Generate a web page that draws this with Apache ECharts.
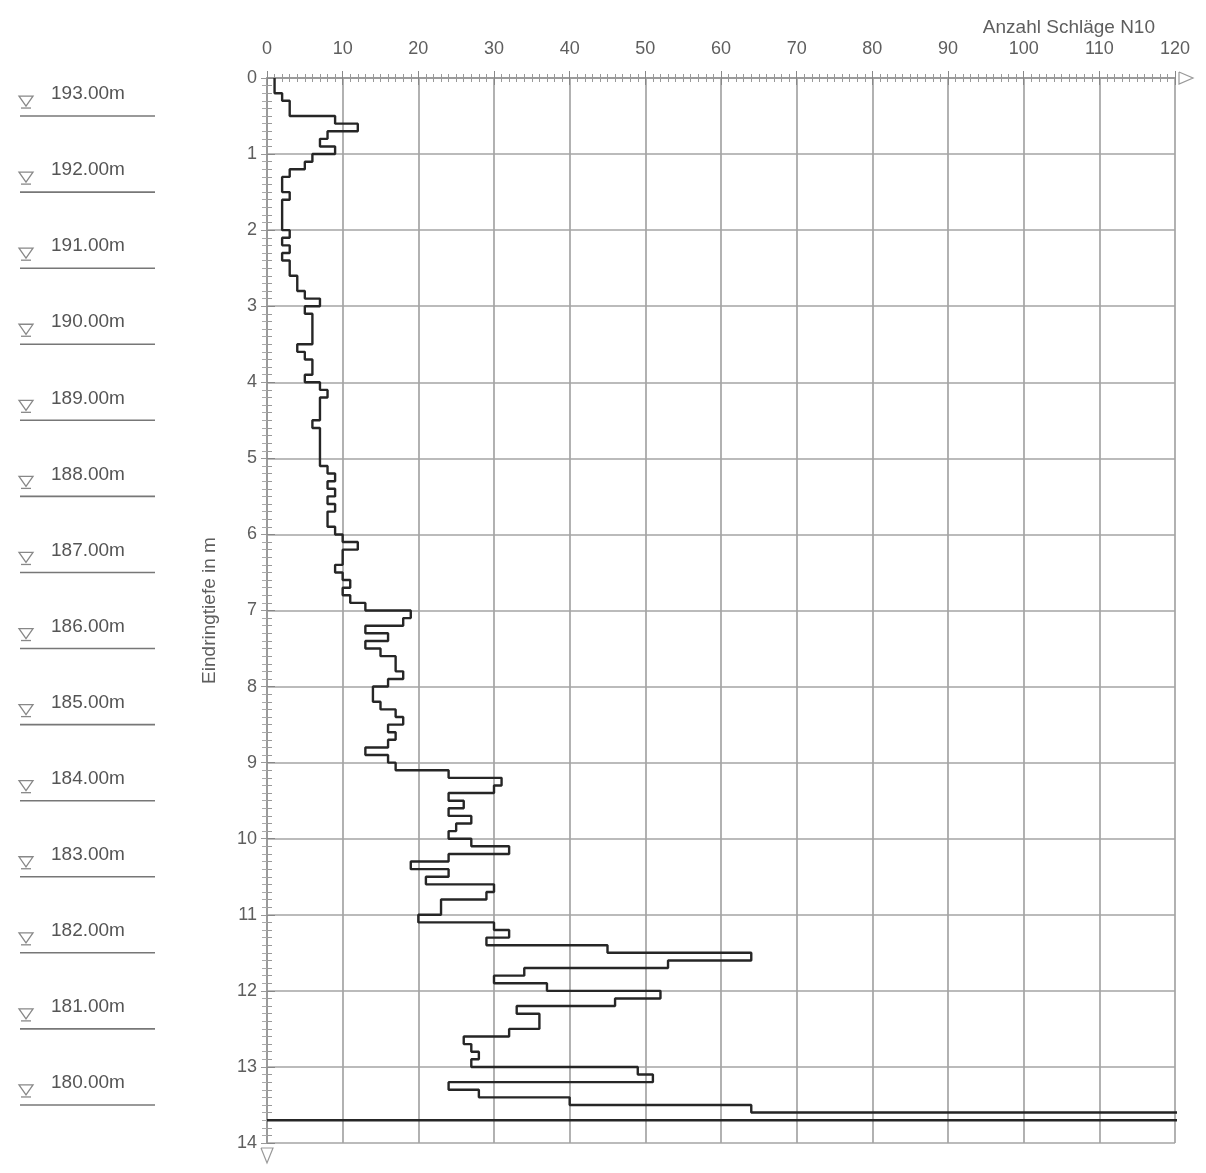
<!DOCTYPE html>
<html>
<head>
<meta charset="utf-8">
<script src="https://cdn.jsdelivr.net/npm/echarts@6/dist/echarts.min.js"></script>
<style>
html,body{margin:0;padding:0;background:#fff;}
#chart{width:1206px;height:1173px;}
</style>
</head>
<body>
<div id="chart"></div>
<script>
// Depth step (m) of each blow-count interval
const depthStep = 0.1;
// Blow counts N10 per 0.1 m, from 0.0 m downwards (last one is off-scale)
const n10Values = [
  1, 1, 2, 3, 3, 9, 12, 8, 7, 9,        // 0.0 - 1.0
  6, 5, 3, 2, 2, 3, 2, 2, 2, 2,         // 1.0 - 2.0
  3, 2, 3, 2, 3, 3, 4, 4, 5, 7,         // 2.0 - 3.0
  5, 6, 6, 6, 6, 4, 5, 6, 6, 5,         // 3.0 - 4.0
  7, 8, 7, 7, 7, 6, 7, 7, 7, 7,         // 4.0 - 5.0
  7, 8, 9, 8, 9, 8, 9, 8, 8, 9,         // 5.0 - 6.0
  10, 12, 10, 10, 9, 10, 11, 10, 11, 13,// 6.0 - 7.0
  19, 18, 13, 16, 13, 15, 17, 17, 18, 16,// 7.0 - 8.0
  14, 14, 15, 17, 18, 16, 17, 16, 13, 16,// 8.0 - 9.0
  17, 24, 31, 30, 24, 26, 24, 27, 25, 24,// 9.0 - 10.0
  27, 32, 24, 19, 24, 21, 30, 29, 23, 23,// 10.0 - 11.0
  20, 30, 32, 29, 45, 64, 53, 34, 30, 37,// 11.0 - 12.0
  52, 46, 33, 36, 36, 32, 26, 27, 28, 27,// 12.0 - 13.0
  49, 51, 24, 28, 40, 64, 130           // 13.0 - 13.7
];
// Elevation markers on the left (m)
const elevationLabels = [193, 192, 191, 190, 189, 188, 187, 186, 185, 184, 183, 182, 181, 180];
const groundElevation = 193.5;
// Axis ranges / ticks
const xMin = 0, xMax = 120, xInterval = 10;
const yMin = 0, yMax = 14, yInterval = 1;
const xAxisTitle = 'Anzahl Schläge N10';
const yAxisTitle = 'Eindringtiefe in m';

// Build step polyline from the values
const stepPoints = [];
n10Values.forEach((v, i) => {
  const d0 = +(i * depthStep).toFixed(2);
  const d1 = +((i + 1) * depthStep).toFixed(2);
  stepPoints.push([v, d0]);
  stepPoints.push([v, d1]);
});
const endDepth = +(n10Values.length * depthStep).toFixed(2);
stepPoints.push([0, endDepth]);

const markerData = elevationLabels.map(e => [0, +(groundElevation - e).toFixed(2), e]);

const GRID_TOP = 78, GRID_BOTTOM = 1173 - 1143, GRID_LEFT = 267, GRID_RIGHT = 1206 - 1175;
const gridColor = '#a4a4a4';
const labelColor = '#5e5e5e';
const FONT = 'Liberation Sans, Arial, sans-serif';

const chart = echarts.init(document.getElementById('chart'), null, {renderer: 'canvas'});
const option = {
  backgroundColor: '#fff',
  animation: false,
  title: {
    text: xAxisTitle,
    right: 46, top: 13,
    textStyle: {fontSize: 19, fontWeight: 'normal', color: labelColor, fontFamily: FONT}
  },
  grid: [
    {left: GRID_LEFT, right: GRID_RIGHT, top: GRID_TOP, bottom: GRID_BOTTOM, containLabel: false},
    {left: 20, width: 135, top: GRID_TOP, bottom: GRID_BOTTOM, containLabel: false}
  ],
  xAxis: [
    {
      gridIndex: 0, type: 'value', position: 'top', min: xMin, max: xMax, interval: xInterval,
      axisLine: {show: true, lineStyle: {color: '#999', width: 1.5}},
      axisTick: {show: true, inside: true, length: 7, lineStyle: {color: '#888'}},
      minorTick: {show: true, splitNumber: 10, length: 4, lineStyle: {color: '#999'}},
      axisLabel: {color: labelColor, fontSize: 18, margin: 20, fontFamily: FONT},
      splitLine: {show: true, lineStyle: {color: gridColor, width: 1.7}}
    },
    {
      gridIndex: 0, type: 'value', position: 'bottom', min: xMin, max: xMax, interval: xInterval,
      axisLine: {show: true, lineStyle: {color: '#999', width: 1.5}},
      axisTick: {show: true, inside: true, length: 7, lineStyle: {color: '#888'}},
      minorTick: {show: true, splitNumber: 10, length: 4, lineStyle: {color: '#999'}},
      axisLabel: {show: false},
      splitLine: {show: false}
    },
    {gridIndex: 1, type: 'value', min: 0, max: 1, show: false}
  ],
  yAxis: [
    {
      gridIndex: 0, type: 'value', inverse: true, position: 'left', min: yMin, max: yMax, interval: yInterval,
      name: yAxisTitle, nameLocation: 'middle', nameGap: 48, nameRotate: 90,
      nameTextStyle: {color: labelColor, fontSize: 19, fontFamily: FONT},
      axisLine: {show: true, lineStyle: {color: '#999', width: 1.5}},
      axisTick: {show: true, inside: true, length: 8, lineStyle: {color: '#888'}},
      minorTick: {show: true, splitNumber: 10, length: 5, lineStyle: {color: '#999'}},
      axisLabel: {color: labelColor, fontSize: 18, margin: 10, fontFamily: FONT},
      splitLine: {show: true, lineStyle: {color: gridColor, width: 1.7}}
    },
    {
      gridIndex: 0, type: 'value', inverse: true, position: 'right', min: yMin, max: yMax, interval: yInterval,
      axisLine: {show: true, lineStyle: {color: '#999', width: 1.5}},
      axisTick: {show: true, inside: true, length: 6, lineStyle: {color: '#999'}},
      minorTick: {show: true, splitNumber: 10, length: 5, lineStyle: {color: '#aaa'}},
      axisLabel: {show: false},
      splitLine: {show: false}
    },
    {gridIndex: 1, type: 'value', inverse: true, min: yMin, max: yMax, show: false}
  ],
  series: [
    {
      type: 'line',
      xAxisIndex: 0, yAxisIndex: 0,
      data: stepPoints,
      showSymbol: false, symbol: 'none',
      clip: true,
      lineStyle: {color: '#262626', width: 2.4},
      z: 5
    },
    {
      type: 'custom',
      xAxisIndex: 2, yAxisIndex: 2,
      data: markerData,
      encode: {x: 0, y: 1},
      clip: false,
      renderItem: function (params, api) {
        const p0 = api.coord([0, api.value(1)]);
        const p1 = api.coord([1, api.value(1)]);
        const x = p0[0], y = p0[1];
        return {
          type: 'group',
          children: [
            {type: 'line', shape: {x1: x, y1: y, x2: p1[0], y2: y},
             style: {stroke: '#777', lineWidth: 1.6}},
            {type: 'polygon', shape: {points: [[x - 1, y - 20], [x + 13, y - 20], [x + 6, y - 10]]},
             style: {fill: 'none', stroke: '#888', lineWidth: 1.3}},
            {type: 'line', shape: {x1: x + 1, y1: y - 8, x2: x + 11, y2: y - 8},
             style: {stroke: '#888', lineWidth: 1.3}},
            {type: 'text', style: {text: api.value(2).toFixed(2) + 'm', x: x + 31, y: y - 22,
             textVerticalAlign: 'middle', verticalAlign: 'middle',
             font: '19px ' + FONT, fill: '#555'}}
          ]
        };
      }
    }
  ]
};
chart.setOption(option);

// Open arrow heads at the axis ends, placed via the axis scales
const pEndX = chart.convertToPixel({xAxisIndex: 0, yAxisIndex: 0}, [xMax, yMin]);
const pEndY = chart.convertToPixel({xAxisIndex: 0, yAxisIndex: 0}, [xMin, yMax]);
chart.setOption({
  graphic: [
    {type: 'polyline', shape: {points: [[pEndX[0] + 4, pEndX[1] - 6], [pEndX[0] + 18, pEndX[1]], [pEndX[0] + 4, pEndX[1] + 6], [pEndX[0] + 4, pEndX[1] - 6]]},
     style: {fill: 'none', stroke: '#999', lineWidth: 1.2}},
    {type: 'polyline', shape: {points: [[pEndY[0] - 6, pEndY[1] + 5], [pEndY[0] + 6, pEndY[1] + 5], [pEndY[0], pEndY[1] + 20], [pEndY[0] - 6, pEndY[1] + 5]]},
     style: {fill: 'none', stroke: '#999', lineWidth: 1.2}}
  ]
});
</script>
</body>
</html>
